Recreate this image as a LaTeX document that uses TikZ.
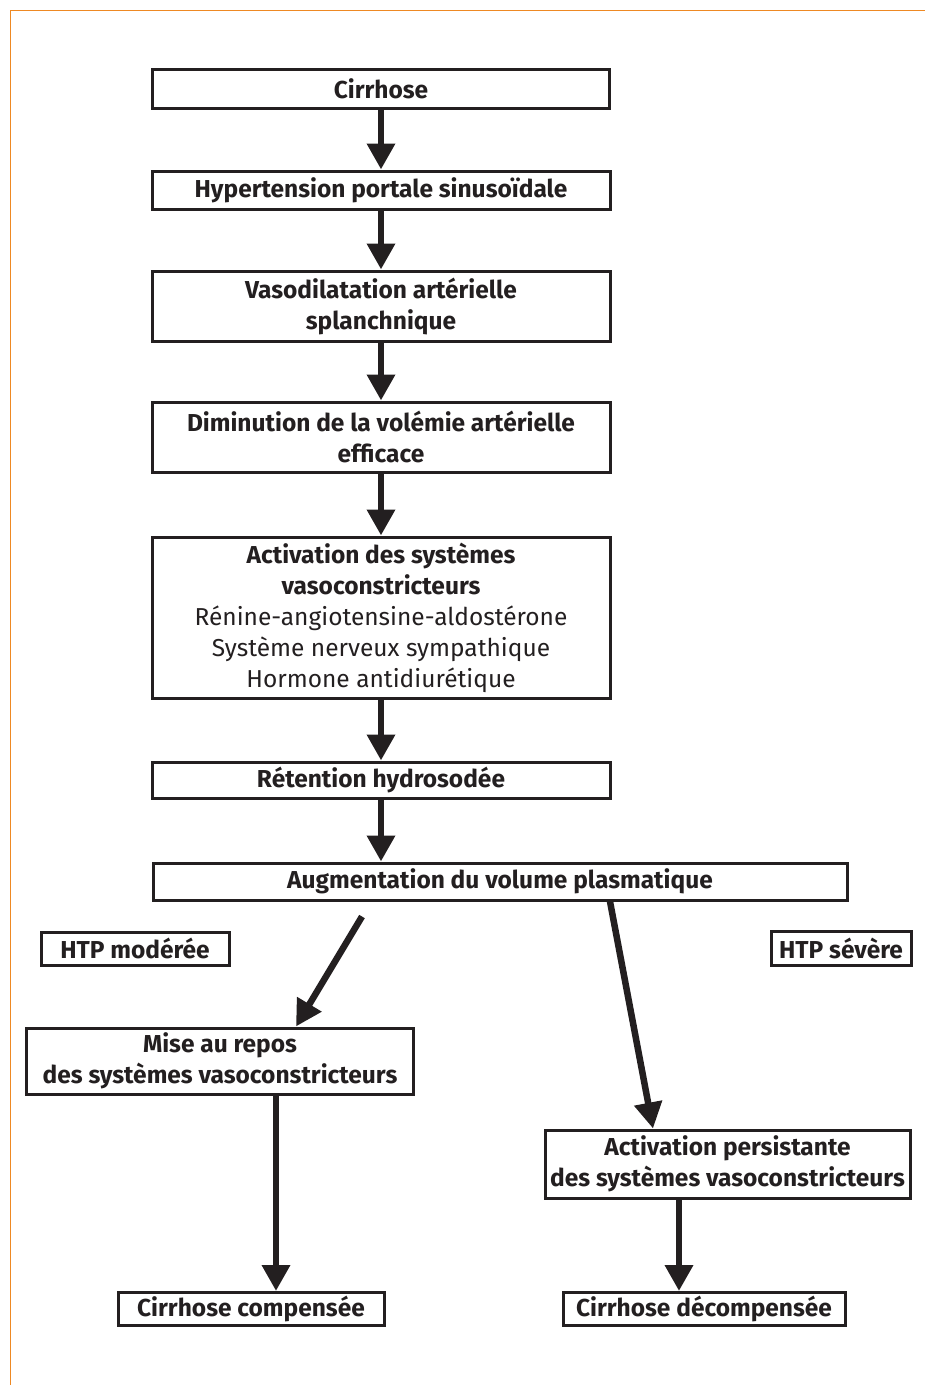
\documentclass[tikz,border=0pt]{standalone}
\usepackage{fontspec}
\setmainfont{Fira Sans}
\usetikzlibrary{arrows.meta}
\definecolor{cadre}{RGB}{238,137,35}
\definecolor{encre}{RGB}{35,31,32}
\tikzset{
  boite/.style={draw=encre, text=encre, line width=3pt, align=center, inner sep=0pt,
    font=\fontsize{24.5}{31}\selectfont\bfseries},
  fleche/.style={encre, line width=6.5pt, -{Triangle[width=27pt,length=26pt]}}
}

\begin{document}
\begin{tikzpicture}[x=1pt,y=-1pt]
			\useasboundingbox (0,0) rectangle (925,1385);
			\draw[cadre, line width=1.8pt] (925,10.5) -- (10.5,10.5) -- (10.5,1385);
			\node[boite, minimum width=457pt, minimum height=39pt] (cirr) at (381,89) {Cirrhose};
			\node[boite, minimum width=458pt, minimum height=38pt] (hps) at (381,190) {Hypertension portale sinusoïdale};
			\node[boite, minimum width=458pt, minimum height=70pt] (vaso) at (381,306) {Vasodilatation artérielle\\splanchnique};
			\node[boite, minimum width=458pt, minimum height=70pt] (dimi) at (381,437) {Diminution de la volémie artérielle\\efficace};
			\node[boite, minimum width=458pt, minimum height=161pt] (acti) at (381,617.5) {Activation des systèmes\\vasoconstricteurs\\
				\mdseries Rénine-angiotensine-aldostérone\\\mdseries Système nerveux sympathique\\\mdseries Hormone antidiurétique};
			\node[boite, minimum width=458pt, minimum height=36pt] (rete) at (381,780) {Rétention hydrosodée};
			\node[boite, minimum width=694pt, minimum height=37pt] (augm) at (500,881.5) {Augmentation du volume plasmatique};
			\node[boite, minimum width=188pt, minimum height=33pt] (htpm) at (135,948.5) {HTP modérée};
			\node[boite, minimum width=140pt, minimum height=34pt] (htps) at (841,948) {HTP sévère};
			\node[boite, minimum width=387pt, minimum height=66pt] (repos) at (220,1061) {Mise au repos\\des systèmes vasoconstricteurs};
			\node[boite, minimum width=365pt, minimum height=68pt] (pers) at (727.5,1164) {Activation persistante\\des systèmes vasoconstricteurs};
			\node[boite, minimum width=266pt, minimum height=33pt] (comp) at (251,1309) {Cirrhose compensée};
			\node[boite, minimum width=282pt, minimum height=33pt] (deco) at (704,1309) {Cirrhose décompensée};
			% axe principal
			\draw[fleche] (cirr.south) -- (hps.north);
			\draw[fleche] (hps.south) -- (vaso.north);
			\draw[fleche] (vaso.south) -- (dimi.north);
			\draw[fleche] (dimi.south) -- (acti.north);
			\draw[fleche] (acti.south) -- (rete.north);
			\draw[fleche] (rete.south) -- (augm.north -| rete.south);
			% deux branches
			\draw[fleche] ([xshift=-138pt,yshift=-15pt]augm.south) -- ([xshift=76pt]repos.north);
			\draw[fleche] ([xshift=110pt]augm.south) -- ([xshift=-74.5pt]pers.north);
			\draw[fleche] ([xshift=56pt]repos.south) -- ([xshift=56pt]repos.south |- comp.north);
			\draw[fleche] ([xshift=-48.5pt]pers.south) -- ([xshift=-48.5pt]pers.south |- deco.north);
		\end{tikzpicture}
\end{document}
